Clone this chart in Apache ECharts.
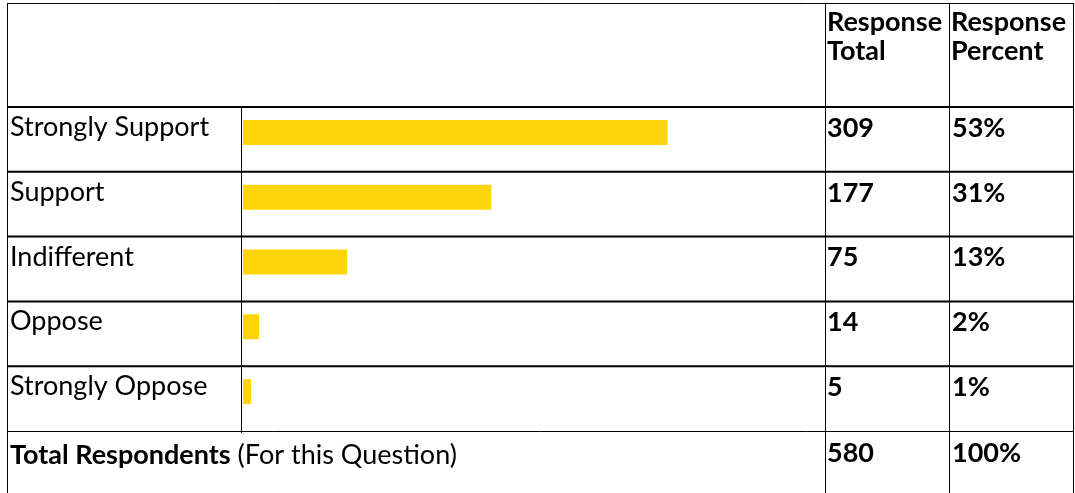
<!DOCTYPE html>
<html><head><meta charset="utf-8">
<script src="https://cdn.jsdelivr.net/npm/echarts@6/dist/echarts.min.js"></script>
<style>html,body{margin:0;padding:0;background:#fff}#c{width:1075px;height:493px}</style>
</head><body><div id="c"></div>
<script>
// ---- data ----
const categories = ['Strongly Support', 'Support', 'Indifferent', 'Oppose', 'Strongly Oppose'];
const responseTotals = [309, 177, 75, 14, 5];
const responsePercents = [53, 31, 13, 2, 1];
const headerTotal = ['Response', 'Total'];
const headerPercent = ['Response', 'Percent'];
const totalLabelBold = 'Total Respondents';
const totalLabelNote = '(For this Question)';
const totalRespondents = 580;
const totalPercent = 100;

// ---- layout ----
const FONT = 'Lato';
const FS = 27;
const L = 7.5, R = 1073.5, TOP = 3.5, BOTTOM = 493;
const HEAD = 107, ROWH = 64.8;
const COL1 = 241.5, COL2 = 825.5, COL3 = 949.5;
const GRID_LEFT = 243, GRID_TOP = 100, GRID_W = 801;
const TEXT_X = 10, TOT_X = 827, PCT_X = 952;
const TEXT_SHIFT = -5.2;
const ROWS_END = HEAD + ROWH * categories.length;

const chart = echarts.init(document.getElementById('c'), null, {renderer: 'canvas'});

function hline(y, x1, x2, w) {
  return {type: 'line', shape: {x1: x1, y1: y, x2: x2, y2: y}, style: {stroke: '#000', lineWidth: w}, z: 10};
}
function vline(x, y1, y2, w) {
  return {type: 'line', shape: {x1: x, y1: y1, x2: x, y2: y2}, style: {stroke: '#000', lineWidth: w}, z: 10};
}
function txt(x, y, text, bold) {
  return {type: 'text', x: x, y: y, style: {text: text, font: (bold ? 'bold ' : '') + FS + 'px ' + FONT, fill: '#000', align: 'left', verticalAlign: 'middle'}, z: 10};
}

chart.setOption({
  animation: false,
  backgroundColor: '#fff',
  grid: {left: GRID_LEFT, top: GRID_TOP, width: GRID_W, height: ROWH * categories.length, containLabel: false},
  xAxis: {type: 'value', min: 0, max: 100, show: false},
  yAxis: {
    type: 'category', data: categories, inverse: true,
    axisLine: {show: false}, axisTick: {show: false}, splitLine: {show: false}, axisLabel: {show: false}
  },
  series: [{
    type: 'bar', data: responsePercents, barWidth: 25,
    itemStyle: {color: '#FFD40A'}, silent: true
  }]
});

const graphics = [];
graphics.push(hline(TOP, L - 0.5, R + 0.5, 1));
for (let i = 0; i < categories.length; i++) {
  graphics.push(hline(HEAD + i * ROWH, L - 0.5, R + 0.5, 2));
}
graphics.push(hline(Math.round(ROWS_END) + 0.5, L - 0.5, R + 0.5, 1));
graphics.push(vline(L, TOP, BOTTOM, 1));
graphics.push(vline(COL1, HEAD, ROWS_END + 2, 1));
graphics.push(vline(COL2, TOP, BOTTOM, 1));
graphics.push(vline(COL3, TOP, BOTTOM, 1));
graphics.push(vline(R, TOP, BOTTOM, 1));
// header
graphics.push(txt(TOT_X, 22.5, headerTotal[0], true));
graphics.push(txt(TOT_X, 51, headerTotal[1], true));
graphics.push(txt(PCT_X - 1, 22.5, headerPercent[0], true));
graphics.push(txt(PCT_X - 1, 51, headerPercent[1], true));
// category rows, positioned from the category axis
categories.forEach(function (cat, i) {
  const y = chart.convertToPixel({yAxisIndex: 0}, cat) + TEXT_SHIFT;
  graphics.push(txt(TEXT_X, y, cat, false));
  graphics.push(txt(TOT_X, y + 0.8, String(responseTotals[i]), true));
  graphics.push(txt(PCT_X, y + 0.8, responsePercents[i] + '%', true));
});
// total row
graphics.push({type: 'text', x: TEXT_X, y: 455, z: 10, style: {
  text: '{b|' + totalLabelBold + '}{n| ' + totalLabelNote + '}', align: 'left', verticalAlign: 'middle',
  rich: {b: {fontFamily: FONT, fontSize: FS, fontWeight: 'bold', fill: '#000'}, n: {fontFamily: FONT, fontSize: FS, fill: '#000'}}
}});
graphics.push(txt(TOT_X, 453, String(totalRespondents), true));
graphics.push(txt(PCT_X, 453, totalPercent + '%', true));

chart.setOption({graphic: graphics});
</script></body></html>
